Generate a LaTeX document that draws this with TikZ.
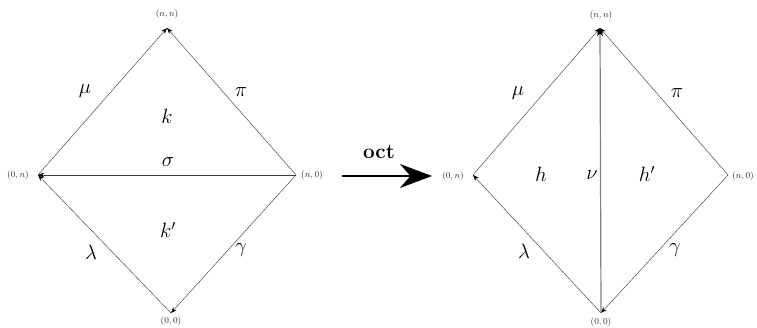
\documentclass[tikz,border=0pt]{standalone}
\usetikzlibrary{arrows.meta}
\begin{document}
\begin{tikzpicture}[x=1pt,y=-1pt,
  edge/.style={draw=black!75,line width=0.45pt,-{Stealth[length=6pt,width=4.5pt,color=black]}},
  thickedge/.style={draw=black!50,line width=1.2pt,-{Stealth[length=8pt,width=6pt,color=black]}},
  vlab/.style={inner sep=0pt,text=black!85,font=\fontsize{9.5}{11}\selectfont},
  glab/.style={inner sep=0pt,font=\fontsize{20}{22}\selectfont},
  bigarrow/.style={line width=2pt,-{Stealth[length=32pt,width=24pt]}}]
\useasboundingbox (0,0) rectangle (757,328);
% left diamond
\coordinate (Lt) at (167,28);
\coordinate (Ll) at (38,175);
\coordinate (Lr) at (296,175);
\coordinate (Lb) at (171,313);
\node[vlab] (Ltl) at (167,14) {$(n,n)$};
\node[vlab] (Lll) at (18,175) {$(0,n)$};
\node[vlab] (Lrl) at (312,175) {$(n,0)$};
\node[vlab] (Lbl) at (171,321) {$(0,0)$};
\draw[edge] (Ll) -- (Lt);
\draw[edge] (Lr) -- (Lt);
\draw[edge] (Lr) -- (Ll);
\draw[edge] (Lb) -- (Ll);
\draw[edge] (Lr) -- (Lb);
\node[glab] (mu1) at (85,91) {$\mu$};
\node[glab] (pi1) at (241,92) {$\pi$};
\node[glab] (k) at (167,116) {$k$};
\node[glab] (sig) at (168,162) {$\sigma$};
\node[glab] (kp) at (168,230) {$k'$};
\node[glab] (lam1) at (91,252) {$\lambda$};
\node[glab] (gam1) at (241,250) {$\gamma$};
% oct arrow
\coordinate (oa) at (342,176);
\coordinate (ob) at (432,176);
\draw[bigarrow] (oa) -- (ob);
\node[inner sep=0pt,font=\fontsize{21}{22}\selectfont] (oct) at (379,152) {$\mathbf{oct}$};
% right diamond
\coordinate (Rt) at (600,28);
\coordinate (Rl) at (473,175);
\coordinate (Rr) at (728,175);
\coordinate (Rb) at (601,313);
\node[vlab] (Rtl) at (601,15) {$(n,n)$};
\node[vlab] (Rll) at (453,176) {$(0,n)$};
\node[vlab] (Rrl) at (743,176) {$(n,0)$};
\node[vlab] (Rbl) at (601,322) {$(0,0)$};
\draw[edge] (Rl) -- (Rt);
\draw[edge] (Rr) -- (Rt);
\draw[edge] (Rb) -- (Rl);
\draw[edge] (Rr) -- (Rb);
\draw[thickedge] (Rb) -- (Rt);
\node[glab] (mu2) at (518,93) {$\mu$};
\node[glab] (pi2) at (677,93) {$\pi$};
\node[glab] (h) at (541,174) {$h$};
\node[glab] (nu) at (592,175) {$\nu$};
\node[glab] (hp) at (647,174) {$h'$};
\node[glab] (lam2) at (524,251) {$\lambda$};
\node[glab] (gam2) at (675,250) {$\gamma$};
\end{tikzpicture}
\end{document}
